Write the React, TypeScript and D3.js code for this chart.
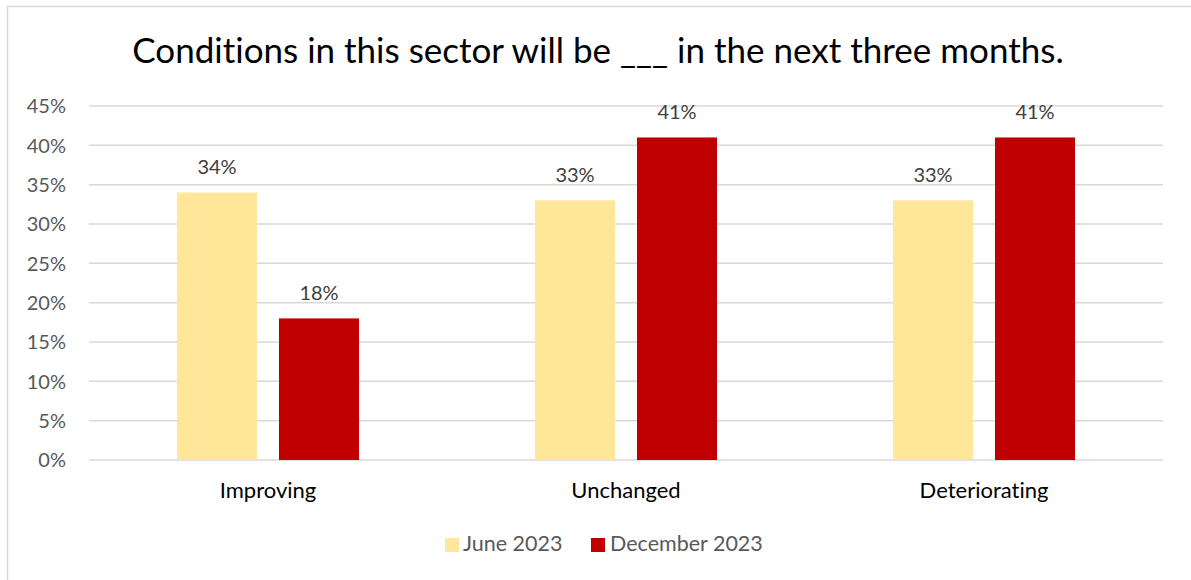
import React from "react";
import * as d3 from "d3";

const categories = ["Improving", "Unchanged", "Deteriorating"];
const seriesNames = ["June 2023", "December 2023"];
const june2023 = [34, 33, 33];
const december2023 = [18, 41, 41];
const yTicks = [0, 5, 10, 15, 20, 25, 30, 35, 40, 45];
const title = "Conditions in this sector will be ___ in the next three months.";

const colors = ["#FFE699", "#C00000"];
const FONT = "Lato, 'Open Sans', sans-serif";

export default function App() {
  const W = 1191, H = 580;
  const left = 89, right = 1163, top = 106, bottom = 460;
  const x0 = d3.scaleBand<string>().domain(categories).range([left, right]).paddingInner(0).paddingOuter(0);
  const y = d3.scaleLinear().domain([0, 45]).range([bottom, top]);
  const barW = 80, gap = 22;
  const series = [june2023, december2023];

  return (
    <svg width={W} height={H} style={{ position: "absolute", left: 0, top: 0, fontVariantLigatures: "none" }}>
      <rect x={0} y={0} width={W} height={H} fill="#fff" />
      <rect x={7.5} y={6.5} width={W + 10} height={H + 10} fill="none" stroke="#D9D9D9" strokeWidth={1.5} />
      <text x={598} y={63} textAnchor="middle" fontFamily={FONT} fontSize={35} fill="#000">{title}</text>
      {yTicks.map(t => (
        <g key={t}>
          <line x1={left} x2={right} y1={y(t)} y2={y(t)} stroke="#D9D9D9" strokeWidth={1.5} />
          <text x={66} y={y(t)} dy="0.36em" textAnchor="end" fontFamily={FONT} fontSize={20} fill="#595959">{t}%</text>
        </g>
      ))}
      {categories.map((c, i) => {
        const cx = (x0(c) as number) + x0.bandwidth() / 2;
        return (
          <g key={c}>
            {series.map((s, j) => {
              const bx = j === 0 ? cx - gap / 2 - barW : cx + gap / 2;
              return (
                <g key={j}>
                  <rect x={bx} y={y(s[i])} width={barW} height={bottom - y(s[i])} fill={colors[j]} />
                  <text x={bx + barW / 2} y={y(s[i]) - 18.5} textAnchor="middle" fontFamily={FONT} fontSize={20} fill="#404040">{s[i]}%</text>
                </g>
              );
            })}
            <text x={cx} y={498} textAnchor="middle" fontFamily={FONT} fontSize={22} fill="#000">{c}</text>
          </g>
        );
      })}
      <g>
        <rect x={445} y={538} width={14} height={14} fill={colors[0]} />
        <text x={463} y={551} fontFamily={FONT} fontSize={21.5} fill="#595959">{seriesNames[0]}</text>
        <rect x={591} y={538} width={14} height={14} fill={colors[1]} />
        <text x={610} y={551} fontFamily={FONT} fontSize={21.5} fill="#595959">{seriesNames[1]}</text>
      </g>
    </svg>
  );
}
